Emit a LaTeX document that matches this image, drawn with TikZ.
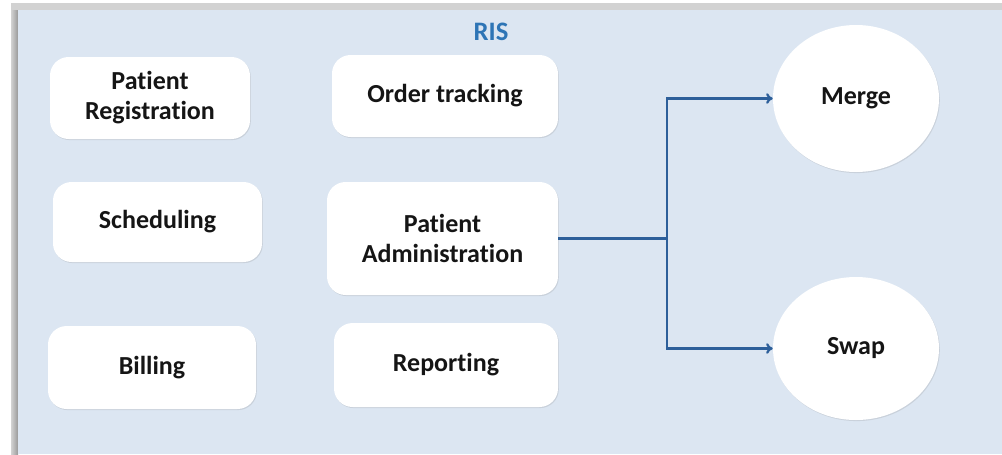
\documentclass[tikz,border=0pt]{standalone}
\usepackage{fontspec}
\setmainfont{Carlito}[Ligatures=NoCommon]
\usepackage{tikz}
\usetikzlibrary{shapes.geometric,shadows,arrows.meta}

\definecolor{panelblue}{HTML}{DCE6F2}
\definecolor{risblue}{HTML}{2E75B6}
\definecolor{linkblue}{HTML}{2D5F9A}
\definecolor{textdark}{HTML}{151515}

\tikzset{
  module/.style={draw=none, fill=white, rounded corners=14pt, align=center,
    font=\bfseries\fontsize{19.5}{22.5}\selectfont, text=textdark,
    drop shadow={opacity=0.2, shadow xshift=0.6pt, shadow yshift=-0.8pt}},
  action/.style={ellipse, draw=none, fill=white, align=center,
    font=\bfseries\fontsize{19.5}{22.5}\selectfont, text=textdark,
    drop shadow={opacity=0.2, shadow xshift=0.6pt, shadow yshift=-0.8pt}},
}

\begin{document}
\begin{tikzpicture}[x=0.75pt,y=-0.75pt]
   \useasboundingbox (0,0) rectangle (1002,454);
   % panel with its shadow
   \fill[gray!35] (11,3) rectangle (1002,454);
   \shade[left color=gray!35, right color=gray!80] (11,10) rectangle (18,454);
   \fill[panelblue] (18,10) rectangle (1002,454);
   \node[font=\bfseries\fontsize{20}{22}\selectfont, text=risblue] (ris) at (491,32) {RIS};

   \node[module, minimum width=150pt, minimum height=61.5pt]   (p_reg)   at (150,98)    {Patient\\Registration};
   \node[module, minimum width=169.5pt, minimum height=61.5pt] (o_track) at (445,96)    {Order tracking};
   \node[module, minimum width=156.75pt, minimum height=60pt]  (sched)   at (157.5,222) {Scheduling};
   \node[module, minimum width=173.25pt, minimum height=84.75pt] (p_admin) at (442.5,238.5) {Patient\\Administration};
   \node[module, minimum width=156pt, minimum height=62.25pt]  (billing) at (152,367.5) {Billing};
   \node[module, minimum width=168pt, minimum height=63pt]     (report)  at (446,365)   {Reporting};

   \node[action, minimum width=124.5pt, minimum height=110.25pt] (merge) at (856,98.5)  {Merge};
   \node[action, minimum width=124.5pt, minimum height=107.25pt] (swap)  at (856,348.5) {Swap};

   \coordinate (fork) at (667,238.5);

   \draw[linkblue, line width=1.7pt] (p_admin.east) -- (fork);
   \path[-{To[length=5pt,width=8pt]}, linkblue, line width=1.7pt]
    (fork) edge[to path={|- (\tikztotarget)}] (merge.west)
           edge[to path={|- (\tikztotarget)}] (swap.west);
\end{tikzpicture}
\end{document}
